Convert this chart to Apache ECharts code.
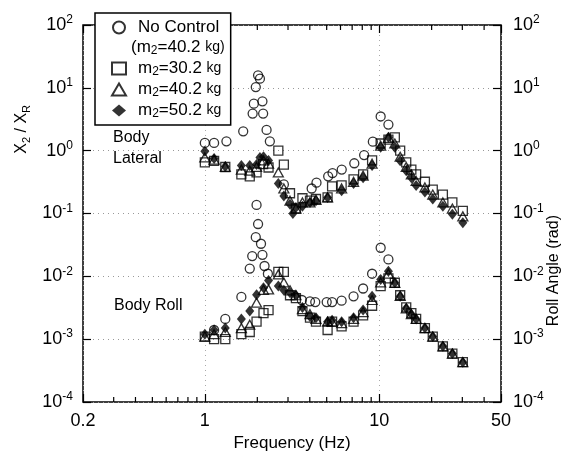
<!DOCTYPE html>
<html><head><meta charset="utf-8">
<script src="https://cdn.jsdelivr.net/npm/echarts@6/dist/echarts.min.js"></script>
<style>html,body{margin:0;padding:0;background:#fff}#c{width:574px;height:459px}</style>
</head><body><div id="c"></div>
<script>
// ---- data: [frequency (Hz), amplitude] ----
const latNoControl = [[1.0,1.33],[1.13,1.33],[1.33,1.41],[1.66,2.03],[1.88,3.9],[1.91,5.6],[1.96,10.3],[2.02,15.8],[2.07,14],[2.14,6.1],[2.16,3.9],[2.26,2.14],[2.36,1.41],[2.84,0.29],[4.1,0.25],[4.37,0.31],[5.1,0.39],[5.4,0.44],[6.1,0.50],[7.2,0.63],[8.2,0.85],[9.2,1.39],[10.2,3.5],[11.3,2.6]];
const latM30 = [[1.0,0.65],[1.13,0.69],[1.31,0.55],[1.62,0.42],[1.81,0.39],[1.98,0.45],[2.16,0.61],[2.32,0.54],[2.64,1.0],[2.84,0.6],[3.08,0.21],[3.33,0.12],[3.63,0.175],[4.01,0.16],[4.34,0.17],[5.06,0.18],[5.37,0.27],[6.09,0.28],[7.13,0.35],[8.09,0.42],[9.11,0.7],[10.2,1.3],[11.3,1.5],[12.3,1.63],[13.2,1.0],[14.3,0.65],[15.3,0.5],[16.3,0.42],[18.3,0.32],[20.3,0.24],[23.2,0.20],[26.3,0.15],[30.2,0.11]];
const latM40 = [[1.0,0.78],[1.13,0.72],[1.31,0.55],[1.62,0.5],[1.81,0.48],[1.98,0.55],[2.17,0.7],[2.32,0.62],[2.64,0.45],[2.84,0.25],[3.08,0.16],[3.33,0.12],[3.63,0.15],[4.01,0.15],[4.34,0.165],[5.06,0.18],[6.09,0.25],[7.13,0.32],[8.09,0.4],[9.11,0.62],[10.2,1.2],[11.3,1.6],[12.3,1.3],[13.2,0.8],[14.3,0.55],[15.3,0.42],[16.3,0.33],[18.3,0.26],[20.3,0.2],[23.2,0.15],[26.3,0.12],[30.2,0.09]];
const latM50 = [[1.0,0.98],[1.13,0.75],[1.31,0.56],[1.62,0.58],[1.81,0.58],[1.98,0.6],[2.07,0.78],[2.17,0.8],[2.32,0.7],[2.64,0.30],[2.84,0.19],[3.08,0.14],[3.2,0.10],[3.33,0.125],[3.63,0.13],[4.01,0.15],[4.34,0.16],[5.06,0.18],[6.09,0.23],[7.13,0.30],[8.09,0.37],[9.11,0.58],[10.2,1.13],[11.3,1.63],[12.3,1.13],[13.2,0.69],[14.3,0.48],[15.3,0.37],[16.3,0.28],[18.3,0.22],[20.3,0.17],[23.2,0.13],[26.3,0.097],[30.2,0.071]];

const rollNoControl = [[1.13,0.0014],[1.31,0.0021],[1.62,0.0047],[1.81,0.0133],[1.87,0.021],[1.96,0.042],[1.98,0.137],[2.02,0.068],[2.1,0.033],[2.14,0.022],[2.2,0.0146],[2.3,0.011],[3.6,0.0042],[4.01,0.004],[4.3,0.0039],[5.0,0.0039],[5.37,0.0039],[6.09,0.0041],[7.13,0.0048],[8.09,0.0064],[9.11,0.011],[10.2,0.0285],[11.3,0.0186]];
const rollM30 = [[1.0,0.0011],[1.13,0.0010],[1.31,0.001],[1.62,0.0012],[1.81,0.0013],[1.98,0.0019],[2.17,0.0026],[2.32,0.0029],[2.64,0.0118],[2.84,0.0118],[3.08,0.005],[3.33,0.0045],[3.63,0.0028],[4.01,0.0022],[4.34,0.0019],[5.06,0.0014],[5.37,0.0019],[6.09,0.0016],[7.13,0.0019],[8.09,0.0024],[9.11,0.0034],[10.2,0.007],[11.3,0.0093],[12.3,0.0079],[13.2,0.005],[14.3,0.0032],[15.3,0.0026],[16.3,0.0021],[18.3,0.0015],[20.3,0.0011],[23.2,0.00077],[26.3,0.00059],[30.2,0.00043]];
const rollM40 = [[1.0,0.0011],[1.13,0.0012],[1.31,0.0013],[1.62,0.0015],[1.81,0.0017],[1.98,0.0038],[2.17,0.0061],[2.32,0.0062],[2.64,0.0107],[2.84,0.008],[3.08,0.006],[3.33,0.005],[3.63,0.003],[4.01,0.0025],[4.34,0.0021],[5.06,0.0019],[5.37,0.0019],[6.09,0.0018],[7.13,0.0021],[8.09,0.0027],[9.11,0.0042],[10.2,0.0080],[11.3,0.011],[12.3,0.0079],[13.2,0.0049],[14.3,0.0031],[15.3,0.0025],[16.3,0.0021],[18.3,0.0015],[20.3,0.0011],[23.2,0.00077],[26.3,0.00059],[30.2,0.00043]];
const rollM50 = [[1.0,0.0012],[1.13,0.0014],[1.31,0.0015],[1.62,0.0021],[1.81,0.0028],[1.98,0.0051],[2.17,0.0066],[2.32,0.0086],[2.64,0.007],[2.84,0.006],[3.08,0.0055],[3.33,0.005],[3.63,0.0032],[4.01,0.0023],[4.34,0.0022],[5.06,0.0019],[5.37,0.0020],[6.09,0.0019],[7.13,0.0022],[8.09,0.0029],[9.11,0.0048],[10.2,0.0089],[11.3,0.0121],[12.3,0.0079],[13.2,0.0048],[14.3,0.0031],[15.3,0.0025],[16.3,0.0021],[18.3,0.0015],[20.3,0.0011],[23.2,0.00077],[26.3,0.00059],[30.2,0.00043]];

const xTickLabels = {0.2:'0.2', 1:'1', 10:'10', 50:'50'};
const minorTicks = [0.3,0.4,0.5,0.6,0.7,0.8,0.9,2,3,4,5,6,7,8,9,20,30,40];
const seriesNames = ['nc','nc2','m30','m40','m50'];

const FONT = 'Liberation Sans';
const chart = echarts.init(document.getElementById('c'), null, {renderer:'canvas'});

function yFmt(v){
  const e = Math.round(Math.log10(v));
  return '{b|10}{s|' + e + '}';
}
const yRich = {
  b:{fontSize:18, fontFamily:FONT, color:'#000', lineHeight:22},
  s:{fontSize:12, fontFamily:FONT, color:'#000', lineHeight:12, verticalAlign:'top'}
};
function xFmt(v){
  const key = Object.keys(xTickLabels).find(k => Math.abs(Math.log10(+k) - Math.log10(v)) < 1e-3);
  return key ? xTickLabels[key] : '';
}
const legRich = {
  p:{width:7, lineHeight:19},
  t:{fontSize:17, fontFamily:FONT, color:'#000', lineHeight:19},
  sb:{fontSize:12, fontFamily:FONT, color:'#000', lineHeight:15, verticalAlign:'bottom'},
  k:{fontSize:14, fontFamily:FONT, color:'#000', lineHeight:19}
};
function mLabel(m){ return '{p|}{t|m}{sb|2}{t|=' + m + ' }{k|kg}'; }
const legendText = {
  nc:'{p|}{t|No Control}',
  nc2:'{t|(m}{sb|2}{t|=40.2 }{k|kg)}',
  m30: mLabel('30.2'),
  m40: mLabel('40.2'),
  m50: mLabel('50.2')
};

const openStyle = {color:'rgba(0,0,0,0)', borderColor:'#000', borderWidth:1.3};

chart.setOption({
  animation:false,
  backgroundColor:'#fff',
  grid:{left:83, right:73, top:25, bottom:57, show:true, borderColor:'#000', borderWidth:1.5, backgroundColor:'transparent'},
  legend:{
    data:seriesNames, orient:'vertical', left:95, top:13,
    backgroundColor:'#fff', borderColor:'#000', borderWidth:1.5,
    padding:[6,6,5,16], itemGap:3, itemWidth:14, itemHeight:12,
    selectedMode:false,
    formatter:n => legendText[n],
    textStyle:{rich:legRich}
  },
  xAxis:[{
    type:'log', min:0.2, max:50, logBase:10, position:'bottom',
    axisLine:{show:false},
    axisTick:{show:true, inside:true, length:8, lineStyle:{color:'#000', width:1.2}},
    axisLabel:{formatter:xFmt, fontSize:18, fontFamily:FONT, color:'#000', margin:10, showMinLabel:true, showMaxLabel:true},
    splitLine:{show:true, lineStyle:{color:'#aaa', type:[1,4], width:1}},
    name:'Frequency (Hz)', nameLocation:'middle', nameGap:33,
    nameTextStyle:{fontSize:17, fontFamily:FONT, color:'#000'}
  },{
    type:'log', min:0.2, max:50, logBase:10, position:'top',
    axisLine:{show:false}, axisLabel:{show:false}, splitLine:{show:false},
    axisTick:{show:true, inside:true, length:8, lineStyle:{color:'#000', width:1.2}}
  }],
  yAxis:[{
    type:'log', min:1e-4, max:1e2, logBase:10, position:'left',
    axisLine:{show:false},
    axisTick:{show:true, inside:true, length:8, lineStyle:{color:'#000', width:1.2}},
    axisLabel:{formatter:yFmt, rich:yRich, margin:10},
    splitLine:{show:true, lineStyle:{color:'#999', type:[1,4], width:1}}
  },{
    type:'log', min:1e-4, max:1e2, logBase:10, position:'right',
    axisLine:{show:false},
    axisTick:{show:true, inside:true, length:8, lineStyle:{color:'#000', width:1.2}},
    axisLabel:{formatter:yFmt, rich:yRich, margin:12},
    splitLine:{show:false}
  }],
  graphic:[
    {type:'text', left:14, top:105, rotation:Math.PI/2, z:10,
     style:{text:'{a|X}{b|2}{a| / X}{b|R}', rich:{a:{fontSize:16,fontFamily:FONT,fill:'#000',lineHeight:20},b:{fontSize:11,fontFamily:FONT,fill:'#000',lineHeight:20,verticalAlign:'bottom'}}}},
    {type:'text', left:546, top:215, rotation:Math.PI/2, z:10,
     style:{text:'Roll Angle (rad)', fontSize:16, fontFamily:FONT, fill:'#000'}},
    {type:'text', left:113, top:130, z:10, style:{text:'Body', fontSize:16, fontFamily:FONT, fill:'#000'}},
    {type:'text', left:113, top:151, z:10, style:{text:'Lateral', fontSize:16, fontFamily:FONT, fill:'#000'}},
    {type:'text', left:114, top:298, z:10, style:{text:'Body Roll', fontSize:16, fontFamily:FONT, fill:'#000'}}
  ],
  series:[
    {name:'m50', type:'scatter', symbol:'diamond', symbolSize:[9,11], data:latM50.concat(rollM50), itemStyle:{color:'#000'}, z:2},
    {name:'m40', type:'scatter', symbol:'triangle', symbolSize:[10,9], data:latM40.concat(rollM40), itemStyle:openStyle, z:3},
    {name:'m30', type:'scatter', symbol:'rect', symbolSize:9, data:latM30.concat(rollM30), itemStyle:openStyle, z:3},
    {name:'nc', type:'scatter', symbol:'circle', symbolSize:9, data:latNoControl.concat(rollNoControl), itemStyle:openStyle, z:4},
    {name:'nc2', type:'scatter', data:[], symbol:'circle', symbolSize:1, itemStyle:{color:'rgba(0,0,0,0)', borderColor:'rgba(0,0,0,0)'}},
    {name:'minor', type:'custom', silent:true, data:minorTicks.map(v=>[v,1]), z:1,
     renderItem:function(params, api){
       const v = api.value(0);
       const b = api.coord([v, 1e-4]);
       const t = api.coord([v, 1e2]);
       return {type:'group', children:[
         {type:'line', shape:{x1:b[0], y1:b[1], x2:b[0], y2:b[1]-5}, style:{stroke:'#000', lineWidth:1.2}},
         {type:'line', shape:{x1:t[0], y1:t[1], x2:t[0], y2:t[1]+5}, style:{stroke:'#000', lineWidth:1.2}}
       ]};
     }}
  ]
});
</script></body></html>
